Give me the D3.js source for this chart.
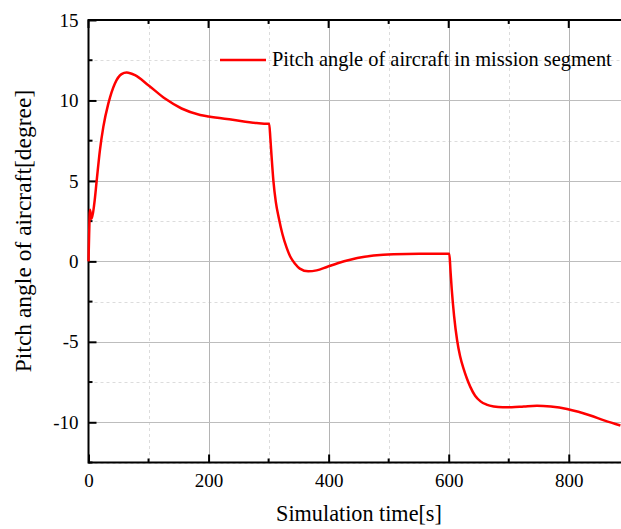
<!DOCTYPE html>
<html>
<head>
<meta charset="utf-8">
<script src="https://cdn.jsdelivr.net/npm/d3@7"></script>
<style>
  body { margin: 0; background: #fff; }
  svg { display: block; }
  text { font-family: "Liberation Serif", "Times New Roman", serif; fill: #000; }
</style>
</head>
<body>
<div id="container"></div>
<script>
/* CONSTANTS AND GLOBALS */
const width = 621,
  height = 529,
  margin = { top: 20, right: 0, bottom: 67, left: 88.5 };

/* DATA */
const timeSec = [0, 1, 2.5, 5.3, 9.7, 13.6, 19, 24.7, 33, 44, 55, 63.6, 77.5, 99.7, 128, 155, 186, 200, 240, 280, 299,
  301, 303, 305, 308, 312, 317, 323, 330, 336, 344, 352, 366, 380, 397, 415, 436, 460, 491, 530, 570, 599,
  601, 603, 605, 609, 614, 619, 625, 630, 636, 644, 653, 663, 675, 690, 705, 725, 747, 770, 797, 816, 836, 860, 886];
const pitchDeg = [0, 1.6, 3.2, 2.65, 3.6, 5.0, 6.9, 8.36, 9.8, 11.06, 11.64, 11.74, 11.57, 10.95, 10.1, 9.5, 9.1, 9.0, 8.8, 8.6, 8.55,
  8.55, 7.6, 6.5, 5.0, 3.7, 2.7, 1.7, 0.85, 0.3, -0.15, -0.45, -0.62, -0.56, -0.35, -0.12, 0.1, 0.28, 0.41, 0.46, 0.47, 0.48,
  0.48, -0.6, -1.7, -3.4, -4.9, -5.9, -6.7, -7.25, -7.8, -8.35, -8.7, -8.9, -9.02, -9.07, -9.07, -9.02, -8.97, -9.02, -9.17, -9.35, -9.58, -9.9, -10.2];
const seriesName = "Pitch angle of aircraft in mission segment";
const xTicks = [0, 200, 400, 600, 800];
const yTicks = [-10, -5, 0, 5, 10, 15];
const xMinor = [100, 300, 500, 700];
const yMinor = [-12.5, -7.5, -2.5, 2.5, 7.5, 12.5];

const data = timeSec.map((t, i) => ({ t: t, p: pitchDeg[i] }));

const svg = d3.select("#container")
  .append("svg")
  .attr("width", width)
  .attr("height", height);

/* SCALES */
const xScale = d3.scaleLinear()
  .domain([0, 887])
  .range([margin.left, width - margin.right]);

const yScale = d3.scaleLinear()
  .domain([-12.5, 15])
  .range([height - margin.bottom + 0.5, margin.top]);

const x0 = margin.left, x1 = width - margin.right;
const yTop = margin.top, yBot = height - margin.bottom + 0.5;

/* GRID */
svg.append("g").selectAll("line")
  .data(xMinor)
  .join("line")
  .attr("x1", d => Math.round(xScale(d)) + 0.5).attr("x2", d => Math.round(xScale(d)) + 0.5)
  .attr("y1", yTop).attr("y2", yBot)
  .attr("stroke", "#dcdcdc").attr("stroke-dasharray", "3,3");

svg.append("g").selectAll("line")
  .data(yMinor)
  .join("line")
  .attr("y1", d => Math.round(yScale(d)) + 0.5).attr("y2", d => Math.round(yScale(d)) + 0.5)
  .attr("x1", x0).attr("x2", x1)
  .attr("stroke", "#dcdcdc").attr("stroke-dasharray", "3,3");

svg.append("g").selectAll("line")
  .data(xTicks.filter(d => d > 0))
  .join("line")
  .attr("x1", d => Math.round(xScale(d)) + 0.5).attr("x2", d => Math.round(xScale(d)) + 0.5)
  .attr("y1", yTop).attr("y2", yBot)
  .attr("stroke", "#b4b4b4");

svg.append("g").selectAll("line")
  .data(yTicks.filter(d => d < 15))
  .join("line")
  .attr("y1", d => Math.round(yScale(d)) + 0.5).attr("y2", d => Math.round(yScale(d)) + 0.5)
  .attr("x1", x0).attr("x2", x1)
  .attr("stroke", "#bdbdbd");

/* AXES */
const xAxis = d3.axisBottom(xScale).tickValues(xTicks).tickSize(-8).tickPadding(11).tickFormat(d => String(d));
const gx = svg.append("g")
  .attr("transform", `translate(0,${yBot})`)
  .call(xAxis);
gx.select(".domain").remove();
gx.selectAll(".tick line").attr("stroke", "#000").attr("stroke-width", 2);
gx.selectAll(".tick text").style("font-size", "19px").style("font-family", "Liberation Serif");
gx.selectAll(".minor").data(xMinor).join("line").attr("class", "minor")
  .attr("x1", d => xScale(d)).attr("x2", d => xScale(d))
  .attr("y1", 0).attr("y2", -4).attr("stroke", "#000").attr("stroke-width", 2);

const yAxis = d3.axisLeft(yScale).tickValues(yTicks).tickSize(-8).tickPadding(10).tickFormat(d => String(d));
const gy = svg.append("g")
  .attr("transform", `translate(${x0},0)`)
  .call(yAxis);
gy.select(".domain").remove();
gy.selectAll(".tick line").attr("stroke", "#000").attr("stroke-width", 2);
gy.selectAll(".tick text").style("font-size", "19px").style("font-family", "Liberation Serif");
gy.selectAll(".minor").data(yMinor).join("line").attr("class", "minor")
  .attr("y1", d => yScale(d)).attr("y2", d => yScale(d))
  .attr("x1", 0).attr("x2", 4).attr("stroke", "#000").attr("stroke-width", 2);

// top axis ticks
svg.append("g").selectAll("line")
  .data(xTicks.concat(xMinor))
  .join("line")
  .attr("x1", d => xScale(d)).attr("x2", d => xScale(d))
  .attr("y1", yTop).attr("y2", d => xTicks.includes(d) ? yTop + 8 : yTop + 4)
  .attr("stroke", "#000").attr("stroke-width", 2);

// frame lines
svg.append("line").attr("x1", x0).attr("x2", x1).attr("y1", yTop).attr("y2", yTop)
  .attr("stroke", "#000").attr("stroke-width", 2);
svg.append("line").attr("x1", x0).attr("x2", x1).attr("y1", yBot).attr("y2", yBot)
  .attr("stroke", "#000").attr("stroke-width", 2);
svg.append("line").attr("x1", x0).attr("x2", x0).attr("y1", yTop - 1).attr("y2", yBot + 1)
  .attr("stroke", "#000").attr("stroke-width", 2);

/* LINE */
const line = d3.line()
  .x(d => xScale(d.t))
  .y(d => yScale(d.p))
  .curve(d3.curveMonotoneX);

svg.append("path")
  .datum(data)
  .attr("fill", "none")
  .attr("stroke", "#ff0000")
  .attr("stroke-width", 2.5)
  .attr("stroke-linejoin", "round")
  .attr("d", line);

/* LEGEND */
svg.append("line")
  .attr("x1", 220).attr("x2", 266).attr("y1", 60).attr("y2", 60)
  .attr("stroke", "#ff0000").attr("stroke-width", 2.5);
svg.append("text")
  .attr("x", 272).attr("y", 66)
  .style("font-size", "20.4px")
  .text(seriesName);

/* AXIS TITLES */
svg.append("text")
  .attr("text-anchor", "middle")
  .attr("x", 359).attr("y", 521)
  .style("font-size", "22.2px")
  .text("Simulation time[s]");

svg.append("text")
  .attr("text-anchor", "middle")
  .attr("transform", "translate(31,231) rotate(-90)")
  .style("font-size", "23.5px")
  .text("Pitch angle of aircraft[degree]");
</script>
</body>
</html>
